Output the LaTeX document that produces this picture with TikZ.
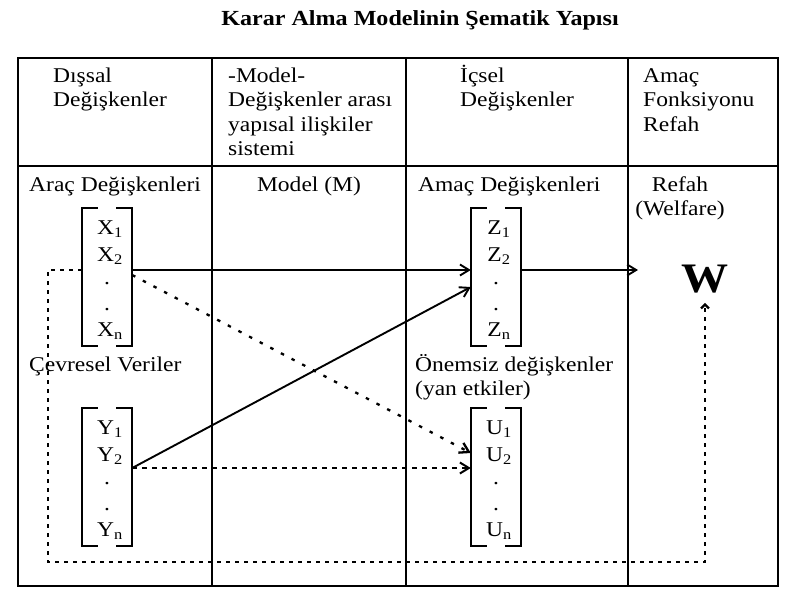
\documentclass[tikz,border=0pt]{standalone}
\usepackage{fontspec}
\setmainfont{Liberation Serif}[FakeStretch=1.12]
\usetikzlibrary{calc,arrows.meta}
\tikzset{
  cerceve/.style={line width=2.6pt},
  vektor/.style={minimum width=50pt,minimum height=138pt,inner sep=0pt},
  ayrac/.style={line width=2.2pt},
  ok/.style={line width=1.9pt,-{Straight Barb[length=9pt,width=11pt]}},
  noktali/.style={line width=2.3pt,dash pattern=on 3.5pt off 5.5pt},
  seyrek/.style={line width=2.3pt,dash pattern=on 3.5pt off 8.5pt},
  kesikli/.style={line width=2pt,dash pattern=on 4.5pt off 5.5pt},
  satir/.style={anchor=base west,align=left,inner sep=0pt},
}

\begin{document}
\begin{tikzpicture}[x=1pt,y=-1pt,font=\fontsize{21}{24.5}\selectfont]
\useasboundingbox (0,0) rectangle (800,600);
\pgfmathsetmacro{\kanca}{16} % parantez ucu

\node[font=\bfseries\fontsize{21.5}{24}\selectfont,anchor=base] (baslik) at (420,25)
     {Karar Alma Modelinin Şematik Yapısı};

% tablo
\draw[cerceve] (18,58) rectangle (778,586);
\draw[cerceve] (18,166) -- (778,166);
\foreach \x in {212,406,628} % sutun cizgileri
  \draw[cerceve] (\x,58) -- (\x,586);

% basliklar (taban = son satir)
\node[satir] (dissal) at (53,106.5) {Dışsal\\Değişkenler};
\node[satir] (model) at (228,155.5) {-Model-\\Değişkenler arası\\yapısal ilişkiler\\sistemi};
\node[satir] (icsel) at (460,106.5) {İçsel\\Değişkenler};
\node[satir] (amac) at (643,131) {Amaç\\Fonksiyonu\\Refah};

\node[satir] (arac) at (29,191) {Araç Değişkenleri};
\node[anchor=base,inner sep=0pt] (modelM) at (309,191) {Model (M)};
\node[satir] (amacdeg) at (418,191) {Amaç Değişkenleri};
\node[anchor=base,align=center,inner sep=0pt] (refah) at (680,215.5) {Refah\\(Welfare)};
\node[satir] (cevre) at (29,371) {Çevresel Veriler};
\node[satir] (onemsiz) at (415,395.5) {Önemsiz değişkenler\\(yan etkiler)};

% vektorler
\foreach \ad/\x/\y in {X/107/277,Y/107/477,Z/496/277,U/496/477}{
  \node[vektor] (\ad) at (\x,\y) {};
  \draw[ayrac] ($(\ad.north west)+(\kanca,0)$) -- (\ad.north west) --
               (\ad.south west) -- +(\kanca,0);
  \draw[ayrac] ($(\ad.north east)+(-\kanca,0)$) -- (\ad.north east) --
               (\ad.south east) -- +(-\kanca,0);
  \node[anchor=base] (\ad1) at ($(\ad)+(3,-43)$) {\ad\textsubscript{1}};
  \node[anchor=base] (\ad2) at ($(\ad)+(3,-16)$) {\ad\textsubscript{2}};
  \node[anchor=base] (\ad3) at ($(\ad)+(0,7)$) {.};
  \node[anchor=base] (\ad4) at ($(\ad)+(0,33)$) {.};
  \node[anchor=base] (\ad5) at ($(\ad)+(3,59)$) {\ad\textsubscript{n}};
}

\node[font=\bfseries\fontsize{42}{42}\selectfont,anchor=base,inner sep=0pt] (W) at (705,292) {W};

\coordinate (ecke) at (48,562); % dongu kosesi
\coordinate (wok) at (638,270);

\draw[ok] ([yshift=7pt]X.east) -- ([yshift=7pt]Z.west);
\draw[ok] ([yshift=9pt]Y.east) -- ([yshift=-10pt]Z.west);
\draw[ok,kesikli] ([yshift=9pt]Y.east) -- ([yshift=9pt]U.west);
\draw[ok,seyrek] ([yshift=2pt]X.east) -- ([yshift=24pt]U.west);
\draw[ok] ([yshift=7pt]Z.east) -- (wok);
\draw[noktali,-{Straight Barb[length=4pt,width=8pt]},shorten >=10pt]
     ([yshift=7pt]X.west) -| (ecke) -| (W.south);
\end{tikzpicture}
\end{document}
